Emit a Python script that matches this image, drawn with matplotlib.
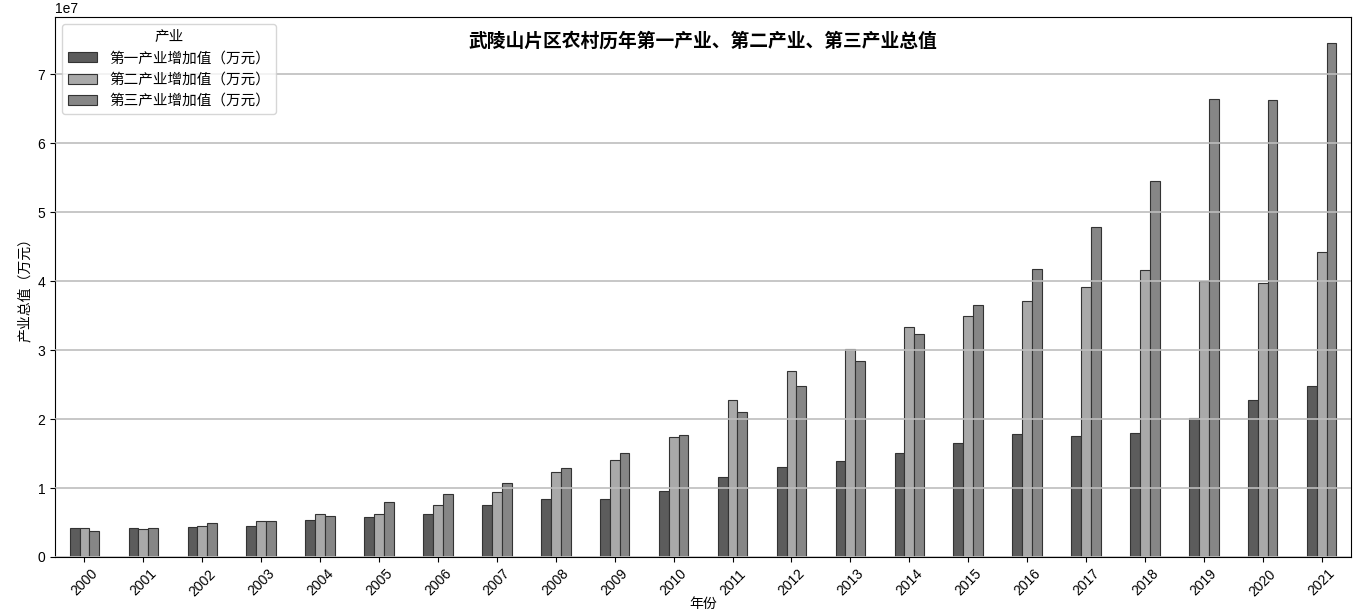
import matplotlib.pyplot as plt
import numpy as np

plt.rcParams['font.family'] = ['Liberation Sans', 'Noto Sans CJK SC', 'DejaVu Sans']
plt.rcParams['axes.unicode_minus'] = False

years = [str(y) for y in range(2000, 2022)]

# 万元
primary = [4.23e6, 4.23e6, 4.38e6, 4.48e6, 5.40e6, 5.79e6, 6.18e6, 7.54e6, 8.37e6, 8.47e6, 9.60e6,
           1.165e7, 1.306e7, 1.393e7, 1.51e7, 1.66e7, 1.79e7, 1.75e7, 1.80e7, 2.01e7, 2.28e7, 2.476e7]
secondary = [4.23e6, 4.00e6, 4.53e6, 5.26e6, 6.18e6, 6.28e6, 7.59e6, 9.39e6, 1.231e7, 1.41e7, 1.742e7,
             2.28e7, 2.694e7, 3.02e7, 3.33e7, 3.50e7, 3.71e7, 3.92e7, 4.16e7, 4.00e7, 3.975e7, 4.42e7]
tertiary = [3.75e6, 4.23e6, 4.87e6, 5.26e6, 5.94e6, 7.98e6, 9.10e6, 1.08e7, 1.285e7, 1.513e7, 1.766e7,
            2.107e7, 2.476e7, 2.85e7, 3.228e7, 3.66e7, 4.18e7, 4.78e7, 5.46e7, 6.64e7, 6.63e7, 7.46e7]

labels = ['第一产业增加值（万元）', '第二产业增加值（万元）', '第三产业增加值（万元）']
colors = ['#5c5c5c', '#a9a9a9', '#868686']

fig = plt.figure(figsize=(13.62, 6.12), dpi=100)
ax = fig.add_axes([0.0404, 0.0899, 0.9516, 0.8823])

x = np.arange(len(years))
w = 0.5 / 3
for i, (vals, lab, c) in enumerate(zip([primary, secondary, tertiary], labels, colors)):
    ax.bar(x - 0.25 + (i + 0.5) * w, vals, w, color=c, edgecolor='#333333', linewidth=0.8, label=lab)

ax.set_xlim(-0.5, len(years) - 0.5)
ax.set_xticks(x)
ax.set_xticklabels(years, rotation=45, fontsize=10)
ax.tick_params(axis='y', labelsize=10)
ax.yaxis.grid(True, color='#bdbdbd', linewidth=1.2)
ax.set_axisbelow(False)

ax.set_title('武陵山片区农村历年第一产业、第二产业、第三产业总值', fontsize=13.5,
             fontweight='bold', y=0.93)
ax.set_xlabel('年份', fontsize=10, labelpad=-1)
ax.set_ylabel('产业总值（万元）', fontsize=10)
ax.legend(title='产业', loc='upper left', fontsize=10.5, title_fontsize=10.5)

plt.savefig('out.png', dpi=100)
